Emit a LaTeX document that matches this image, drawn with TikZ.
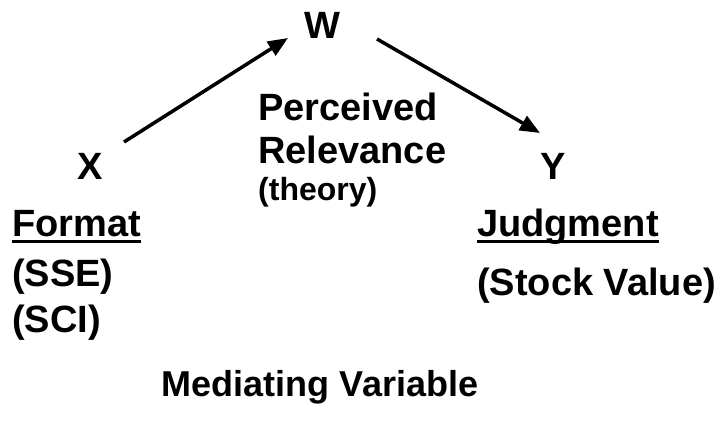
\documentclass[tikz,border=0pt]{standalone}
\usepackage{fontspec}
\setmainfont{Liberation Sans}
\usetikzlibrary{arrows.meta}
\begin{document}
\begin{tikzpicture}[x=1pt,y=-1pt,
  lbl/.style={font=\fontsize{38}{41}\selectfont\bfseries, inner sep=0pt},
  small/.style={font=\fontsize{32}{35}\selectfont\bfseries, inner sep=0pt},
  caption/.style={font=\fontsize{36}{39}\selectfont\bfseries, inner sep=0pt},
  conn/.style={line width=3.5pt, -{Triangle[length=20pt,width=16pt]}},
  uline/.style={line width=3pt}]
\useasboundingbox (0,0) rectangle (719,422);
% variables
\node[lbl, anchor=base] (W) at (322,39) {W};
\node[lbl, anchor=base] (X) at (90,179) {X};
\node[lbl, anchor=base] (Y) at (553,179) {Y};
% mediator text
\node[lbl, anchor=base west] (perc) at (258,121) {Perceived};
\node[lbl, anchor=base west] (rel) at (258,164) {Relevance};
\node[small, anchor=base west] (theo) at (258,200) {(theory)};
% X texts
\node[lbl, anchor=base west] (fmt) at (12,236) {Format};
\node[lbl, anchor=base west] (sse) at (12,286) {(SSE)};
\node[lbl, anchor=base west] (sci) at (12,332) {(SCI)};
\draw[uline] ([yshift=-5.5pt]fmt.base west) -- ([yshift=-5.5pt]fmt.base east);
% Y texts
\node[lbl, anchor=base west] (jud) at (477,236) {Judgment};
\node[lbl, anchor=base west] (stock) at (477,295) {(Stock Value)};
\draw[uline] ([yshift=-5.5pt]jud.base west) -- ([yshift=-5.5pt]jud.base east);
% caption
\node[caption, anchor=base] (med) at (320,396) {Mediating Variable};
% arrows
\coordinate (a1s) at (124,142);
\coordinate (a1e) at (288,38);
\coordinate (a2s) at (377,39);
\coordinate (a2e) at (540,133);
\draw[conn] (a1s) -- (a1e);
\draw[conn] (a2s) -- (a2e);
\end{tikzpicture}
\end{document}
